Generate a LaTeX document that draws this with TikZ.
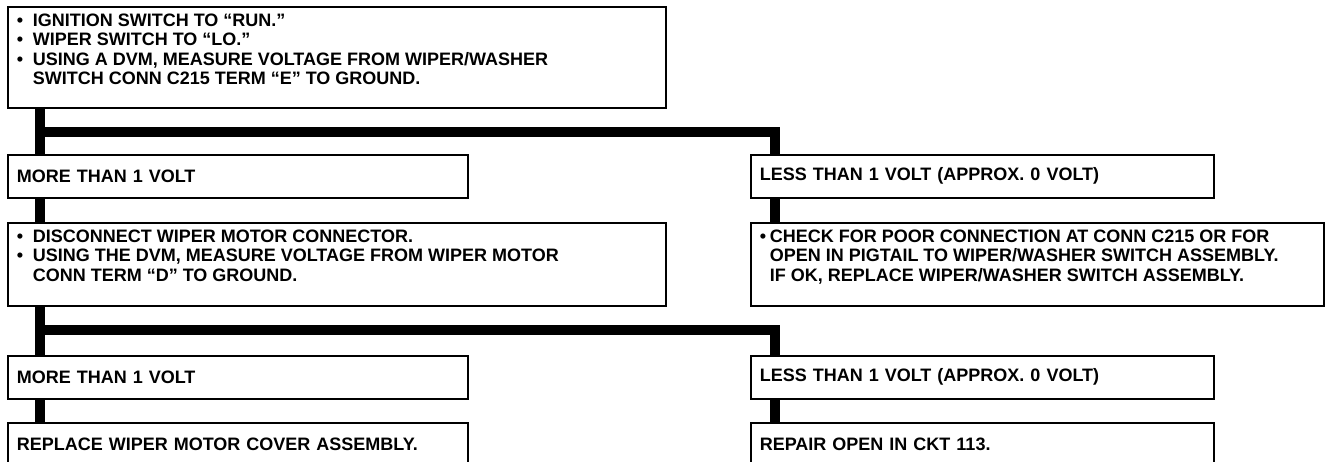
\documentclass[tikz,border=0pt]{standalone}
\usepackage{fontspec}
\setmainfont{Liberation Sans}
\usetikzlibrary{positioning}
\newcommand{\bul}{\makebox[16pt][l]{•}}
\newcommand{\ind}{\hspace*{16pt}}
\newcommand{\steptext}[3]{\parbox[c][#1][t]{#2}{\vspace*{7pt}#3}}
\tikzset{
  box/.style={draw,line width=1.6pt,anchor=north west,inner xsep=9pt,inner ysep=0pt,
    font=\bfseries\fontsize{18}{19.5}\selectfont,align=left},
  onebox/.style={box,minimum height=43pt,text width=#1},
  flow/.style={line width=10pt}
}
\begin{document}
\begin{tikzpicture}[x=1pt,y=-1pt]
\useasboundingbox (0,0) rectangle (1329,461);
% first test
\node[box] (test1) at (7,6) {\steptext{101pt}{640pt}{\bul IGNITION SWITCH TO “RUN.”\\
\bul WIPER SWITCH TO “LO.”\\
\bul USING A DVM, MEASURE VOLTAGE FROM WIPER/WASHER\\
\ind SWITCH CONN C215 TERM “E” TO GROUND.}};
\node[onebox=442pt] (more1) at (7,154) {MORE THAN 1 VOLT};
\node[onebox=445pt] (less1) at (750,154) {LESS THAN 1 VOLT (APPROX. 0 VOLT)};
% second test
\node[box] (test2) at (7,222) {\steptext{83pt}{640pt}{\bul DISCONNECT WIPER MOTOR CONNECTOR.\\
\bul USING THE DVM, MEASURE VOLTAGE FROM WIPER MOTOR\\
\ind CONN TERM “D” TO GROUND.}};
\node[box] (check1) at (750,222) {\steptext{83pt}{555pt}{\makebox[10pt][l]{•}CHECK FOR POOR CONNECTION AT CONN C215 OR FOR\\
\hspace*{10pt}OPEN IN PIGTAIL TO WIPER/WASHER SWITCH ASSEMBLY.\\
\hspace*{10pt}IF OK, REPLACE WIPER/WASHER SWITCH ASSEMBLY.}};
\node[onebox=442pt] (more2) at (7,355) {MORE THAN 1 VOLT};
\node[onebox=445pt] (less2) at (750,355) {LESS THAN 1 VOLT (APPROX. 0 VOLT)};
% repairs
\node[onebox=442pt] (fix1) at (7,422) {REPLACE WIPER MOTOR COVER ASSEMBLY.};
\node[onebox=445pt] (fix2) at (750,422) {REPAIR OPEN IN CKT 113.};
% connectors
\draw[flow] ([xshift=33pt]test1.south west) -- ([xshift=33pt]more1.north west);
\draw[flow] ([xshift=33pt,yshift=-23pt]test1.south west) -| ([xshift=25pt]less1.north west);
\draw[flow] ([xshift=33pt]more1.south west) -- ([xshift=33pt]test2.north west);
\draw[flow] ([xshift=25pt]less1.south west) -- ([xshift=25pt]check1.north west);
\draw[flow] ([xshift=33pt]test2.south west) -- ([xshift=33pt]more2.north west);
\draw[flow] ([xshift=33pt,yshift=-23pt]test2.south west) -| ([xshift=25pt]less2.north west);
\draw[flow] ([xshift=33pt]more2.south west) -- ([xshift=33pt]fix1.north west);
\draw[flow] ([xshift=25pt]less2.south west) -- ([xshift=25pt]fix2.north west);
\end{tikzpicture}
\end{document}
